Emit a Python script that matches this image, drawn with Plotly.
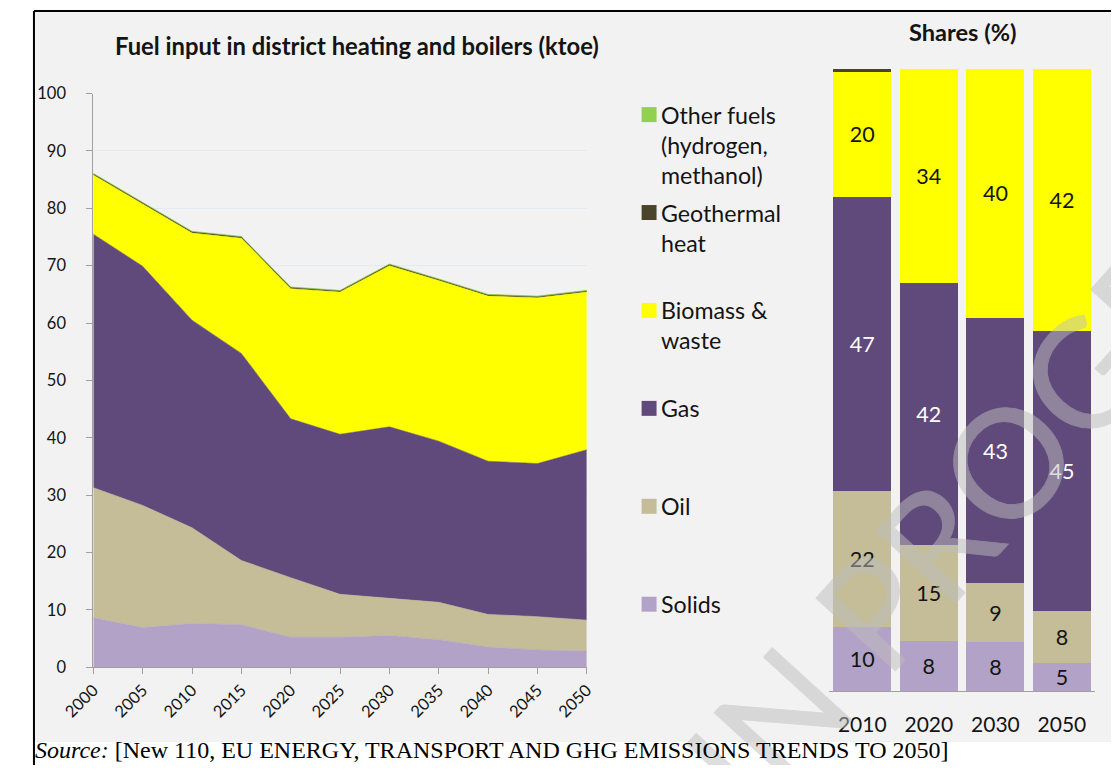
import base64
import plotly.graph_objects as go

# ---------------- data ----------------
years = [2000, 2005, 2010, 2015, 2020, 2025, 2030, 2035, 2040, 2045, 2050]
solids = [8.6, 6.9, 7.6, 7.4, 5.2, 5.2, 5.5, 4.8, 3.5, 3.0, 2.8]
oil = [22.7, 21.3, 16.7, 11.2, 10.4, 7.5, 6.5, 6.5, 5.7, 5.8, 5.4]
gas = [44.2, 41.7, 36.2, 36.1, 27.7, 27.9, 29.9, 28.1, 26.7, 26.7, 29.7]
biomass = [10.3, 10.8, 15.2, 20.1, 22.7, 24.8, 28.1, 28.0, 28.8, 28.9, 27.5]
geothermal = [0.2, 0.2, 0.2, 0.2, 0.2, 0.2, 0.2, 0.2, 0.2, 0.2, 0.2]
other_fuels = [0.1, 0.1, 0.1, 0.1, 0.1, 0.1, 0.1, 0.1, 0.1, 0.1, 0.1]

share_years = ["2010", "2020", "2030", "2050"]
share_solids = [10.3, 8.0, 7.9, 4.6]
share_oil = [21.8, 15.4, 9.4, 8.2]
share_gas = [47.3, 42.2, 42.6, 45.1]
share_biomass = [20.1, 34.4, 40.1, 42.1]
share_geothermal = [0.5, 0.0, 0.0, 0.0]
share_other = [0.0, 0.0, 0.0, 0.0]

series_names = ["Solids", "Oil", "Gas", "Biomass & waste", "Geothermal heat",
                "Other fuels (hydrogen, methanol)"]
legend_labels = ["Other fuels<br>(hydrogen,<br>methanol)", "Geothermal<br>heat",
                 "Biomass &<br>waste", "Gas", "Oil", "Solids"]

title_left = "Fuel input in district heating and boilers (ktoe)"
title_right = "Shares (%)"
source_text = "<i>Source:</i> [New 110, EU ENERGY, TRANSPORT AND GHG EMISSIONS TRENDS TO 2050]"
watermark = "WORK IN PROGRESS"

# ---------------- styles ----------------
colors = {
    "Solids": "#b3a2c7",
    "Oil": "#c4bd97",
    "Gas": "#604a7b",
    "Biomass & waste": "#ffff00",
    "Geothermal heat": "#4a452a",
    "Other fuels (hydrogen, methanol)": "#92d050",
}
legend_colors = [colors[n] for n in reversed(series_names)]
FONT = "Lato"
TXT = "#141414"
W, H = 1120, 775

# the photographed page appears slightly scaled/shifted; place elements so that
# they land at the intended picture positions
SX, OX, SY, OY = 0.9655, 31.5, 0.975, 10.3


def pgx(r):
    return min(max((r - OX) / SX, 0), W)


def pgy(r):
    return min(max((r - OY) / SY, 0), H)


def px(r):
    return pgx(r) / W


def py(r):
    return 1 - pgy(r) / H


fig = go.Figure()

area_values = [solids, oil, gas, biomass, geothermal, other_fuels]
for name, vals in zip(series_names, area_values):
    fig.add_trace(go.Scatter(
        x=years, y=vals, name=name, stackgroup="one", mode="lines",
        line=dict(width=0.6, color=colors[name]),
        fillcolor=colors[name], xaxis="x", yaxis="y", showlegend=False,
        hoverinfo="x+y+name"))

share_values = [share_solids, share_oil, share_gas, share_biomass,
                share_geothermal, share_other]
for name, vals in zip(series_names, share_values):
    labelled = name in ("Solids", "Oil", "Gas", "Biomass & waste")
    fig.add_trace(go.Bar(
        x=share_years, y=vals, name=name, marker=dict(color=colors[name], line=dict(width=0)),
        xaxis="x2", yaxis="y2", showlegend=False,
        texttemplate="%{y:.0f}" if labelled else "",
        textposition="inside" if labelled else "none",
        insidetextanchor="middle", textangle=0,
        textfont=dict(family=FONT, size=21.5,
                      color="#ffffff" if name == "Gas" else TXT)))

shapes = [
    dict(type="rect", xref="paper", yref="paper", x0=px(18), x1=px(1115),
         y0=py(743), y1=py(7), fillcolor="#f2f2f2", line=dict(width=0), layer="below"),
    dict(type="line", xref="paper", yref="paper", x0=1 / W, x1=px(1117),
         y0=1 - 1 / H, y1=1 - 1 / H, line=dict(color="#000000", width=2)),
    dict(type="line", xref="paper", yref="paper", x0=1 / W, x1=1 / W,
         y0=1 - 1 / H, y1=0, line=dict(color="#000000", width=2)),
]

annotations = [
    dict(text=f"<b>{title_left}</b>", xref="paper", yref="paper", x=px(357), y=py(46),
         xanchor="center", yanchor="middle", showarrow=False,
         font=dict(family=FONT, size=23.8, color=TXT)),
    dict(text=f"<b>{title_right}</b>", xref="paper", yref="paper", x=px(964), y=py(32),
         xanchor="center", yanchor="middle", showarrow=False,
         font=dict(family=FONT, size=23.6, color=TXT)),
    dict(text=source_text, xref="paper", yref="paper", x=0.0, y=0.0,
         xanchor="left", yanchor="bottom", showarrow=False,
         font=dict(family="Liberation Serif", size=24, color="#000000")),
]

for i, (lab, col) in enumerate(zip(legend_labels, legend_colors)):
    yc = 115 + i * 98
    shapes.append(dict(type="rect", xref="paper", yref="paper",
                       x0=px(642), x1=px(657), y0=py(yc + 7.5), y1=py(yc - 7.5),
                       fillcolor=col, line=dict(width=0)))
    annotations.append(dict(text=lab, xref="paper", yref="paper", x=px(659), y=py(yc - 16),
                            xanchor="left", yanchor="top", align="left", showarrow=False,
                            font=dict(family=FONT, size=23.2, color=TXT)))

wx, wy = pgx(863), pgy(622)
wm_svg = (
    f"<svg xmlns='http://www.w3.org/2000/svg' width='{W}' height='{H}' viewBox='0 0 {W} {H}'>"
    f"<g opacity='0.5'><text x='{wx:.1f}' y='{wy:.1f}' transform='rotate(-48 {wx:.1f} {wy:.1f})' "
    f"text-anchor='middle' dominant-baseline='central' font-family='Lato' font-size='155' "
    f"fill='rgb(190,190,190)' stroke='rgb(190,190,190)' stroke-width='1'>{watermark}</text></g></svg>"
)
wm_src = "data:image/svg+xml;base64," + base64.b64encode(wm_svg.encode()).decode()

fig.update_layout(
    width=W, height=H, margin=dict(l=0, r=0, t=0, b=0), autosize=False,
    paper_bgcolor="#ffffff", plot_bgcolor="#ffffff",
    barmode="stack", bargap=0.13,
    shapes=shapes, annotations=annotations,
    images=[dict(source=wm_src, xref="paper", yref="paper", x=0, y=1, sizex=1, sizey=1,
                 xanchor="left", yanchor="top", sizing="stretch", layer="above")],
    xaxis=dict(domain=[px(92), px(587)], range=[2000, 2050], tickvals=years,
               tickangle=-45, ticks="outside", ticklen=6, tickcolor="#a0a0a0",
               showline=True, linecolor="#a0a0a0", linewidth=1, showgrid=False,
               zeroline=False, tickfont=dict(family=FONT, size=16.5, color=TXT)),
    yaxis=dict(domain=[py(668), py(94)], range=[0, 100], dtick=10,
               ticks="outside", ticklen=6, tickcolor="#a0a0a0",
               showline=True, linecolor="#a0a0a0", linewidth=1,
               showgrid=True, gridcolor="#e4eaf3", gridwidth=1, zeroline=False,
               ticklabelstandoff=17,
               tickfont=dict(family=FONT, size=16.5, color=TXT)),
    xaxis2=dict(domain=[px(830), px(1097)], type="category", anchor="y2",
                showline=True, linecolor="#a0a0a0", linewidth=1, ticks="",
                ticklabelstandoff=15,
                tickfont=dict(family=FONT, size=21, color=TXT)),
    yaxis2=dict(domain=[py(692), py(69)], range=[0, 100], anchor="x2",
                visible=False),
    uniformtext=dict(minsize=21.5, mode="show"),
)

fig.write_html(
    "out.html",
    config={"displayModeBar": False},
    post_script="document.body.style.margin='0';document.body.style.padding='0';"
                "document.documentElement.style.overflow='hidden';",
)
